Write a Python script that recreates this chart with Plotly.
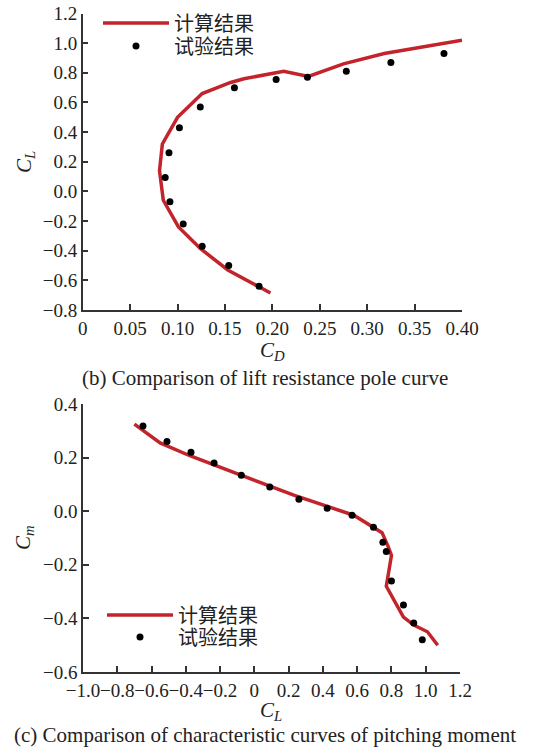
import plotly.graph_objects as go

# ---------------- data: (b) lift-drag polar ----------------
calc_cd = [0.198, 0.153, 0.124, 0.101, 0.085, 0.081, 0.084, 0.100, 0.126, 0.156,
           0.170, 0.212, 0.238, 0.275, 0.318, 0.346, 0.400]
calc_cl = [-0.685, -0.53, -0.385, -0.24, -0.06, 0.14, 0.32, 0.50, 0.66, 0.735,
           0.76, 0.81, 0.775, 0.86, 0.93, 0.96, 1.02]
exp_cd = [0.186, 0.154, 0.126, 0.106, 0.092, 0.087, 0.091, 0.102, 0.124, 0.160,
          0.204, 0.237, 0.278, 0.325, 0.381]
exp_cl = [-0.64, -0.50, -0.37, -0.22, -0.07, 0.094, 0.26, 0.43, 0.57, 0.70,
          0.755, 0.77, 0.81, 0.87, 0.93]

# ---------------- data: (c) pitching moment ----------------
calc_cl2 = [-0.70, -0.55, -0.373, -0.08, 0.23, 0.58, 0.66, 0.745, 0.78, 0.80,
            0.77, 0.81, 0.87, 0.93, 1.01, 1.07]
calc_cm = [0.325, 0.255, 0.206, 0.134, 0.06, -0.015, -0.045, -0.08, -0.13, -0.165,
           -0.28, -0.325, -0.395, -0.425, -0.45, -0.50]
exp_cl2 = [-0.65, -0.51, -0.37, -0.235, -0.076, 0.09, 0.26, 0.425, 0.57, 0.695,
           0.75, 0.77, 0.80, 0.87, 0.93, 0.98]
exp_cm = [0.318, 0.26, 0.22, 0.18, 0.134, 0.09, 0.045, 0.011, -0.015, -0.06,
          -0.116, -0.15, -0.26, -0.35, -0.417, -0.48]

# ---------------- tick labels ----------------
x1_ticks = [0, 0.05, 0.10, 0.15, 0.20, 0.25, 0.30, 0.35, 0.40]
x1_text = ["0", "0.05", "0.10", "0.15", "0.20", "0.25", "0.30", "0.35", "0.40"]
y1_ticks = [-0.8, -0.6, -0.4, -0.2, 0.0, 0.2, 0.4, 0.6, 0.8, 1.0, 1.2]
x2_ticks = [-1.0, -0.8, -0.6, -0.4, -0.2, 0, 0.2, 0.4, 0.6, 0.8, 1.0, 1.2]
x2_text = ["\u22121.0", "\u22120.8", "\u22120.6", "\u22120.4", "\u22120.2", "0",
           "0.2", "0.4", "0.6", "0.8", "1.0", "1.2"]
y2_ticks = [-0.6, -0.4, -0.2, 0.0, 0.2, 0.4]

name_calc = "计算结果"
name_exp = "试验结果"
caption_b = "(b) Comparison of lift resistance pole curve"
caption_c = "(c) Comparison of characteristic curves of pitching moment"

RED = "#c3242b"
W, H = 533, 750
SERIF = "Liberation Serif, Times New Roman, serif"
LEG_FONT = dict(family="Liberation Serif, Noto Sans CJK SC", size=20, color="#222")


def px(x):
    return x / W


def py(y):
    return 1 - y / H


fig = go.Figure()
fig.add_trace(go.Scatter(x=calc_cd, y=calc_cl, mode="lines", name=name_calc,
                         line=dict(color=RED, width=3.5), xaxis="x", yaxis="y",
                         legend="legend2"))
fig.add_trace(go.Scatter(x=exp_cd, y=exp_cl, mode="markers", name=name_exp,
                         marker=dict(color="black", size=7), xaxis="x", yaxis="y",
                         legend="legend3"))
fig.add_trace(go.Scatter(x=calc_cl2, y=calc_cm, mode="lines", name=name_calc,
                         line=dict(color=RED, width=3.5), xaxis="x2", yaxis="y2",
                         legend="legend4"))
fig.add_trace(go.Scatter(x=exp_cl2, y=exp_cm, mode="markers", name=name_exp,
                         marker=dict(color="black", size=7), xaxis="x2", yaxis="y2",
                         legend="legend5"))

axis_common = dict(showline=True, linecolor="#333", linewidth=1.5, ticks="inside",
                   ticklen=6, tickwidth=1.5, tickcolor="#333", showgrid=False,
                   zeroline=False, automargin=False, tickangle=0,
                   tickfont=dict(family=SERIF, size=19, color="#222"))


def leg(x, y):
    return dict(x=px(x), y=py(y), xanchor="left", yanchor="middle", itemwidth=66,
                font=LEG_FONT, bgcolor="rgba(0,0,0,0)", borderwidth=0)


fig.update_layout(
    width=W, height=H,
    margin=dict(l=0, r=0, t=0, b=0),
    paper_bgcolor="white", plot_bgcolor="white",
    showlegend=True,
    xaxis=dict(domain=[px(82.7), px(462)], range=[0, 0.40], tickvals=x1_ticks,
               ticktext=x1_text, anchor="y", **axis_common),
    yaxis=dict(domain=[py(310), py(13.5)], range=[-0.8, 1.2], tickvals=y1_ticks,
               tickformat=".1f", anchor="x", **axis_common),
    xaxis2=dict(domain=[px(83), px(460)], range=[-1.0, 1.2], tickvals=x2_ticks,
                ticktext=x2_text, anchor="y2", **axis_common),
    yaxis2=dict(domain=[py(672), py(404)], range=[-0.6, 0.4], tickvals=y2_ticks,
                tickformat=".1f", anchor="x2", **axis_common),
    legend2=leg(98, 23),
    legend3=leg(98, 46),
    legend4=leg(102, 615),
    legend5=leg(102, 637),
)

ann_font = dict(family=SERIF, size=21, color="#222")
annotations = [
    dict(text="<i>C</i><sub><i>D</i></sub>", x=px(272), y=py(351)),
    dict(text="<i>C</i><sub><i>L</i></sub>", x=px(25), y=py(162), textangle=-90),
    dict(text=caption_b, x=px(265), y=py(378)),
    dict(text="<i>C</i><sub><i>L</i></sub>", x=px(271), y=py(711)),
    dict(text="<i>C</i><sub><i>m</i></sub>", x=px(24), y=py(538), textangle=-90),
    dict(text=caption_c, x=px(265), y=py(735)),
]
for a in annotations:
    fig.add_annotation(xref="paper", yref="paper", showarrow=False,
                       xanchor="center", yanchor="middle", font=ann_font, **a)

fig.write_html("out.html",
               config={"displayModeBar": False},
               post_script="document.body.style.margin='0';"
                           "document.body.style.padding='0';")
